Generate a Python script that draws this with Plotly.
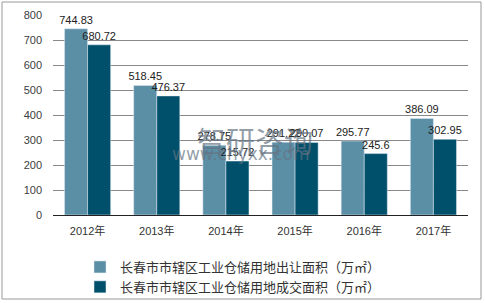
import plotly.graph_objects as go

years = ["2012年", "2013年", "2014年", "2015年", "2016年", "2017年"]
sold = [744.83, 518.45, 278.75, 291.22, 295.77, 386.09]
deal = [680.72, 476.37, 215.72, 290.07, 245.6, 302.95]
name_sold = "长春市市辖区工业仓储用地出让面积（万㎡）"
name_deal = "长春市市辖区工业仓储用地成交面积（万㎡）"
y_ticks = [0, 100, 200, 300, 400, 500, 600, 700, 800]

FONT = "Liberation Sans, Noto Sans CJK SC, sans-serif"

fig = go.Figure()
fig.add_trace(go.Bar(x=years, y=sold, name=name_sold, marker_color="#5B8FA6",
                     text=[f"{v:g}" for v in sold], textposition="outside",
                     constraintext="none", cliponaxis=False,
                     textfont=dict(size=11, color="#222222")))
fig.add_trace(go.Bar(x=years, y=deal, name=name_deal, marker_color="#00506B",
                     text=[f"{v:g}" for v in deal], textposition="outside",
                     constraintext="none", cliponaxis=False,
                     textfont=dict(size=11, color="#222222")))

W0, W1 = 53, 468
T0, B0 = 15, 215
def px(x):
    return (x - W0) / (W1 - W0)
def py(y):
    return (B0 - y) / (B0 - T0)

fig.update_layout(
    width=485, height=303,
    margin=dict(l=W0, r=485 - W1, t=T0, b=303 - B0, autoexpand=False),
    paper_bgcolor="white", plot_bgcolor="white",
    font=dict(family=FONT, size=11, color="#404040"),
    barmode="group", bargap=0.333, bargroupgap=0,
    showlegend=True,
    legend=dict(orientation="v", xref="container", yref="container",
                x=80 / 485, xanchor="left", y=1 - 252 / 303, yanchor="top",
                font=dict(size=13, color="#333333"), bgcolor="rgba(0,0,0,0)",
                itemwidth=30, tracegroupgap=0),
    xaxis=dict(showgrid=False, showline=True, linecolor="#222222", linewidth=1,
               ticks="", tickfont=dict(size=11, color="#333333"), ticklabelstandoff=6),
    yaxis=dict(range=[0, 800], tickvals=y_ticks, showgrid=True, gridcolor="#888888",
               gridwidth=1, zeroline=False, showline=False, ticks="",
               tickfont=dict(size=11, color="#404040"), ticklabelstandoff=10),
    shapes=[dict(type="rect", xref="paper", yref="paper",
                 x0=px(2), x1=px(481), y0=py(299), y1=py(2),
                 line=dict(color="#999999", width=1), layer="above")],
    annotations=[
        dict(text="智研咨询", xref="paper", yref="paper", x=px(255), y=py(140),
             showarrow=False, font=dict(size=29, color="rgba(100,115,130,0.7)",
                                        family="Noto Sans CJK SC")),
        dict(text="www.chyxx.com", xref="paper", yref="paper", x=px(241), y=py(166),
             showarrow=False, font=dict(size=17, color="rgba(100,115,130,0.7)",
                                        family="DejaVu Sans")),
    ],
)

fig.write_html("out.html")
